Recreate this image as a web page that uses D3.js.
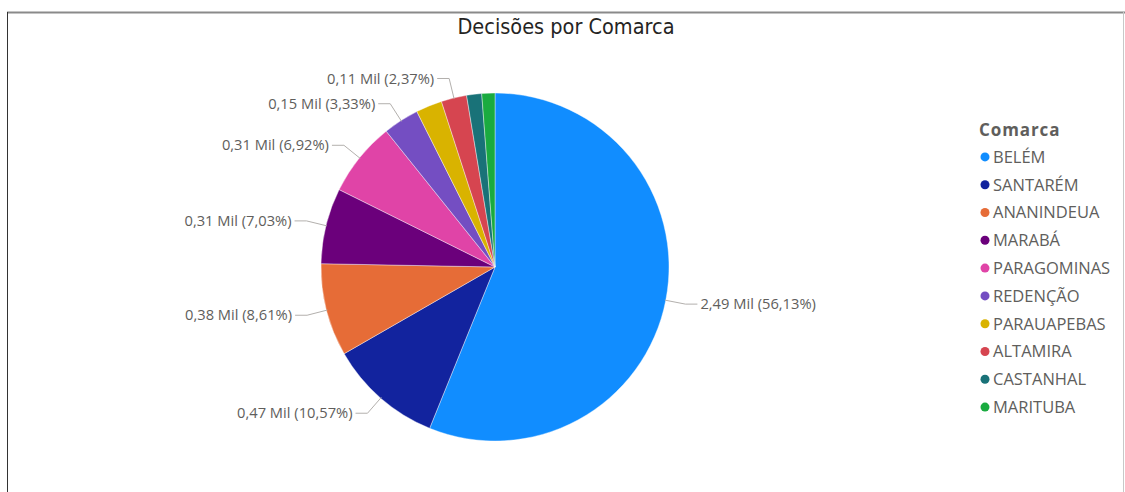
<!DOCTYPE html>
<html><head><meta charset="utf-8">
<script src="https://cdn.jsdelivr.net/npm/d3@7"></script>
<style>
html,body{margin:0;padding:0;background:#fff;}
svg{display:block;}
</style></head>
<body>
<svg id="chart" width="1125" height="492"></svg>
<script>
const categories = ["BELÉM","SANTARÉM","ANANINDEUA","MARABÁ","PARAGOMINAS","REDENÇÃO","PARAUAPEBAS","ALTAMIRA","CASTANHAL","MARITUBA"];
const values = [2491,469,382,312,307,148,108,105,62,54];
const colors = ["#118DFF","#12239E","#E66C37","#6B007B","#E044A7","#744EC2","#D9B300","#D64550","#197278","#1AAB40"];
const labelled = ["BELÉM","SANTARÉM","ANANINDEUA","MARABÁ","PARAGOMINAS","REDENÇÃO","ALTAMIRA"];
const title = "Decisões por Comarca";
const legendTitle = "Comarca";

const svg = d3.select("#chart");
const W = 1125, H = 492;

// frame
svg.append("line").attr("x1",7).attr("x2",1125).attr("y1",12.5).attr("y2",12.5).attr("stroke","#8a8a8a").attr("stroke-width",2);
svg.append("line").attr("x1",7.5).attr("x2",7.5).attr("y1",12).attr("y2",H).attr("stroke","#333").attr("stroke-width",1);
svg.append("line").attr("x1",1123.5).attr("x2",1123.5).attr("y1",12).attr("y2",H).attr("stroke","#c8c8c8").attr("stroke-width",1);

svg.append("text").attr("x",566).attr("y",34).attr("text-anchor","middle")
  .attr("font-family","'DejaVu Sans Condensed', 'DejaVu Sans', sans-serif").attr("font-size",21.5)
  .attr("fill","#252423").text(title);

const cx = 495, cy = 267, R = 174;
const total = d3.sum(values);
const data = categories.map((c,i)=>({name:c,value:values[i],color:colors[i]}));
const pie = d3.pie().value(d=>d.value).sort(null);
const arcs = pie(data);
const arc = d3.arc().innerRadius(0).outerRadius(R);
const g = svg.append("g").attr("transform",`translate(${cx},${cy})`);
g.selectAll("path").data(arcs).join("path").attr("d",arc).attr("fill",d=>d.data.color)
  .attr("stroke","#fff").attr("stroke-width",0.4);

const fmtNum = v => (Math.round(v/10)/100).toFixed(2).replace(".",",") + " Mil";
const fmtPct = v => (Math.round(v*10000)/100).toFixed(2).replace(".",",") + "%";
const lg = g.append("g");
arcs.filter(a=>labelled.includes(a.data.name)).forEach(a=>{
  const mid = (a.startAngle+a.endAngle)/2;
  const p0 = [Math.sin(mid)*(R-1), -Math.cos(mid)*(R-1)];
  const p1 = [Math.sin(mid)*194, -Math.cos(mid)*194];
  const right = Math.sin(mid) > 0;
  const p2 = [p1[0] + (right?12:-12), p1[1]];
  lg.append("polyline").attr("points",[p0,p1,p2].map(p=>p.join(",")).join(" "))
    .attr("fill","none").attr("stroke","#b3b0ad").attr("stroke-width",1);
  lg.append("text").attr("x",p2[0]+(right?3:-3)).attr("y",p2[1]).attr("dy","0.35em")
    .attr("text-anchor",right?"start":"end")
    .attr("font-family","'Open Sans', 'Noto Sans', sans-serif").attr("font-size",14.7)
    .attr("fill","#605E5C").text(`${fmtNum(a.data.value)} (${fmtPct(a.data.value/total)})`);
});

// legend
const leg = svg.append("g").attr("transform","translate(979,0)");
leg.append("text").attr("x",0).attr("y",136).attr("font-family","'Open Sans', 'Noto Sans', sans-serif")
  .attr("font-size",17).attr("font-weight","bold").attr("letter-spacing",0.9).attr("fill","#605E5C").text(legendTitle);
const ly = d3.scaleBand().domain(categories).range([143,421]);
categories.forEach((c,i)=>{
  const y = ly(c)+ly.bandwidth()/2;
  leg.append("circle").attr("cx",6).attr("cy",y).attr("r",4.5).attr("fill",colors[i]);
  leg.append("text").attr("x",14).attr("y",y).attr("dy","0.36em")
    .attr("font-family","'Open Sans', 'Noto Sans', sans-serif").attr("font-size",16.5)
    .attr("fill","#605E5C").text(c);
});
</script>
</body></html>
